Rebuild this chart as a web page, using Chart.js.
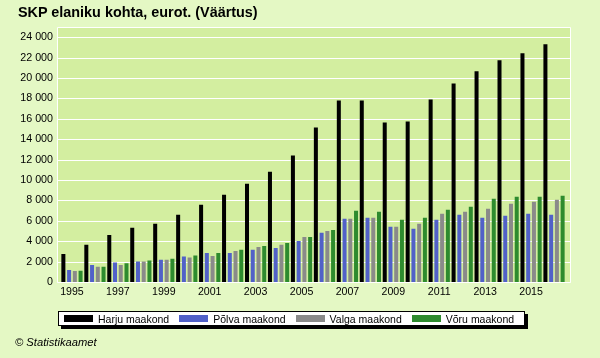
<!DOCTYPE html>
<html>
<head>
<meta charset="utf-8">
<script src="https://cdn.jsdelivr.net/npm/chart.js@4"></script>
<style>
    body { margin: 0; background: #E4F8C4; }
    #wrap { position: relative; width: 600px; height: 358px; background: #E4F8C4; font-family: Arial, "Liberation Sans", sans-serif; }
    #chart { position: absolute; left: 0; top: 0; }
    #title { position: absolute; left: 18px; top: 4px; font-weight: bold; font-size: 14.4px; color: #000; white-space: nowrap; }
    #legend { position: absolute; left: 58px; top: 311px; height: 13px; padding: 0 10px 0 5px; background: #fff; border: 1px solid #000; box-shadow: 3px 3px 0 #000; display: flex; align-items: center; font-size: 10.5px; white-space: nowrap; }
    .item { display: flex; align-items: center; margin-right: 10px; }
    .item:last-child { margin-right: 0; }
    .swatch { width: 29px; height: 7px; margin-right: 5px; }
    #footer { position: absolute; left: 15px; top: 336px; font-style: italic; font-size: 11.2px; white-space: nowrap; }
</style>
</head>
<body>
<div id="wrap">
    <canvas id="chart" width="600" height="358"></canvas>
    <div id="title">SKP elaniku kohta, eurot. (Väärtus)</div>
    <div id="legend"></div>
    <div id="footer">© Statistikaamet</div>
</div>
<script>
// Aastad (kategooriad)
const years = ['1995', '1996', '1997', '1998', '1999', '2000', '2001', '2002', '2003', '2004', '2005',
    '2006', '2007', '2008', '2009', '2010', '2011', '2012', '2013', '2014', '2015', '2016'];

// SKP elaniku kohta, eurot
const harju = [2750, 3640, 4620, 5310, 5700, 6590, 7570, 8550, 9640, 10820, 12390,
    15140, 17800, 17800, 15630, 15730, 17900, 19470, 20650, 21730, 22420, 23300];
const polva = [1180, 1670, 1900, 2000, 2190, 2490, 2850, 2850, 3150, 3340, 4030,
    4820, 6190, 6290, 5410, 5210, 6100, 6590, 6290, 6490, 6690, 6590];
const valga = [1080, 1500, 1670, 2000, 2190, 2390, 2560, 3050, 3440, 3640, 4420,
    5010, 6190, 6290, 5410, 5700, 6690, 6880, 7180, 7670, 7870, 8060];
const voru = [1100, 1500, 1840, 2100, 2290, 2590, 2850, 3150, 3540, 3830, 4420,
    5110, 6980, 6880, 6100, 6290, 7080, 7370, 8160, 8360, 8360, 8460];

const seriesNames = ['Harju maakond', 'Põlva maakond', 'Valga maakond', 'Võru maakond'];
const seriesColors = ['#000000', '#5161C8', '#8A8A8A', '#2E8B2E'];

// y-telje jaotised
const yTicks = [0, 2000, 4000, 6000, 8000, 10000, 12000, 14000, 16000, 18000, 20000, 22000, 24000];
const yMax = 25000;

const fmt = v => String(v).replace(/\B(?=(\d{3})+(?!\d))/g, ' ');

// Joonise taust, valged ruudujooned ja raam
const plotBackground = {
    id: 'plotBackground',
    beforeDatasetsDraw(chart) {
        const { ctx, chartArea, scales } = chart;
        const left = Math.round(chartArea.left - 3.5) + 0.5;
        const right = Math.round(chartArea.right + 4.5) + 0.5;
        const top = Math.round(chartArea.top) + 0.5;
        const bottom = Math.round(chartArea.bottom) + 0.5;
        ctx.save();
        ctx.fillStyle = '#D3EEA0';
        ctx.fillRect(left, top, right - left, bottom - top);
        ctx.strokeStyle = '#FFFFFF';
        ctx.lineWidth = 1;
        ctx.beginPath();
        yTicks.forEach(v => {
            const y = Math.round(scales.y.getPixelForValue(v)) + 0.5;
            ctx.moveTo(left, y);
            ctx.lineTo(right, y);
        });
        ctx.rect(left, top, right - left, bottom - top);
        ctx.stroke();
        ctx.restore();
    }
};

const data = [harju, polva, valga, voru];

new Chart(document.getElementById('chart').getContext('2d'), {
    type: 'bar',
    data: {
        labels: years,
        datasets: data.map((d, i) => ({
            label: seriesNames[i],
            data: d,
            backgroundColor: seriesColors[i],
            borderWidth: 0,
            categoryPercentage: 1,
            barPercentage: 0.7
        }))
    },
    options: {
        responsive: false,
        animation: false,
        events: [],
        layout: { padding: { left: 0, right: 34.5, top: 27, bottom: 56 } },
        plugins: {
            legend: { display: false },
            title: { display: false },
            tooltip: { enabled: false }
        },
        scales: {
            x: {
                grid: { display: false, drawTicks: false },
                border: { display: false },
                afterFit: s => { s.height = 20; },
                ticks: {
                    autoSkip: false,
                    maxRotation: 0,
                    padding: 4,
                    color: '#000',
                    font: { family: 'Arial', size: 10.6 },
                    callback: (v, i) => (i % 2 === 0 ? years[i] : '')
                }
            },
            y: {
                min: 0,
                max: yMax,
                grid: { display: false, drawTicks: false },
                border: { display: false },
                afterFit: s => { s.width = 60.5; },
                afterBuildTicks: s => { s.ticks = yTicks.map(v => ({ value: v })); },
                ticks: {
                    autoSkip: false,
                    padding: 7.5,
                    color: '#000',
                    font: { family: 'Arial', size: 10.7 },
                    callback: v => fmt(v)
                }
            }
        }
    },
    plugins: [plotBackground]
});

// Legend
const legend = document.getElementById('legend');
seriesNames.forEach((name, i) => {
    const item = document.createElement('div');
    item.className = 'item';
    const sw = document.createElement('span');
    sw.className = 'swatch';
    sw.style.background = seriesColors[i];
    const txt = document.createElement('span');
    txt.textContent = name;
    item.appendChild(sw);
    item.appendChild(txt);
    legend.appendChild(item);
});
</script>
</body>
</html>
